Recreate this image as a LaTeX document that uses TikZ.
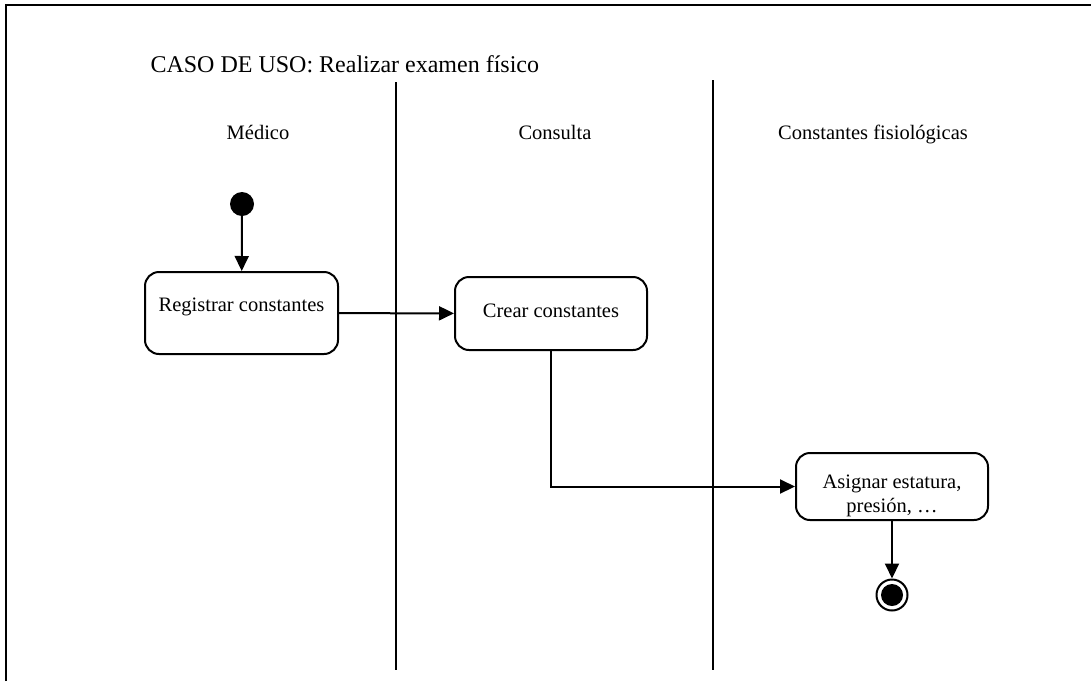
\documentclass[tikz,border=0pt]{standalone}
\usepackage{fontspec}
\setmainfont{Liberation Serif}
\usetikzlibrary{arrows.meta}
\begin{document}
\begin{tikzpicture}[x=1pt,y=-1pt,
  every node/.style={font=\fontsize{20.5}{24}\selectfont},
  activity/.style={draw, line width=2pt, rounded corners=14pt, align=center, inner sep=0pt},
  flow/.style={line width=2pt, -{Triangle[length=15pt,width=14pt]}},
  lane/.style={line width=2pt},
  frameline/.style={line width=2.5pt},
  lanelabel/.style={anchor=base, font=\fontsize{20.5}{24}\selectfont},
  titletext/.style={anchor=base west, font=\fontsize{24}{28}\selectfont}]
\useasboundingbox (0,0) rectangle (1091,681);

% open frame (left and top edges)
\coordinate (fbl) at (6,681);
\coordinate (ftl) at (6,5);
\coordinate (ftr) at (1091,5);
\draw[frameline] (fbl) -- (ftl) -- (ftr);

% title and swimlane headers
\node[titletext] (title) at (147,72) {CASO DE USO: Realizar examen físico};
\node[lanelabel] (lmed) at (258,139) {Médico};
\node[lanelabel] (lcon) at (555,139) {Consulta};
\node[lanelabel] (lfis) at (873,139) {Constantes fisiológicas};

% swimlane separators
\coordinate (s1t) at (396,82);
\coordinate (s1b) at (396,670);
\coordinate (s2t) at (713,80);
\coordinate (s2b) at (713,670);
\draw[lane] (s1t) -- (s1b);
\draw[lane] (s2t) -- (s2b);

% activities
\node[circle, fill, inner sep=0pt, minimum size=24pt] (start) at (242,204) {};
\node[activity, minimum width=193pt, minimum height=82pt, text depth=16pt] (reg) at (241.5,313) {Registrar constantes};
\node[activity, minimum width=192pt, minimum height=73pt, text depth=6pt] (crear) at (551,313.5) {Crear constantes};
\node[activity, minimum width=192pt, minimum height=67pt] (asig) at (892,486.5) {};
\node[align=center, inner sep=0pt] (asigtext) at ([yshift=-9pt]asig.center) {Asignar estatura,\\presión, …};
\node[circle, draw, line width=2pt, inner sep=0pt, minimum size=31pt] (end) at (892,595) {};
\node[circle, fill, inner sep=0pt, minimum size=22pt] (endin) at (end) {};

% control flow
\draw[flow] (start) -- (reg);
\draw[flow] (reg) -- (crear);
\draw[flow] (crear.south) |- (asig.west);
\draw[flow] (asig) -- (end);
\end{tikzpicture}
\end{document}
